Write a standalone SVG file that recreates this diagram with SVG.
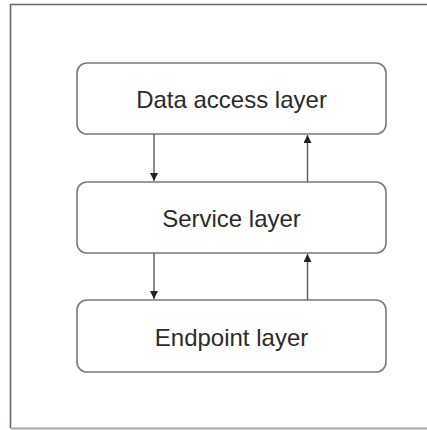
<svg xmlns="http://www.w3.org/2000/svg" width="427" height="430" viewBox="0 0 427 430">
  <style>
    .box { fill: #ffffff; stroke: #7a7a7a; stroke-width: 1.6; }
    .label { font-family: "Liberation Sans", Arial, sans-serif; font-size: 24px; fill: #2b2b2b; text-anchor: middle; }
    .link { stroke: #5a5a5a; stroke-width: 1.4; fill: none; }
  </style>
  <defs>
    <marker id="arrow" viewBox="0 0 10 10" refX="10" refY="5" markerWidth="8" markerHeight="8" markerUnits="userSpaceOnUse" orient="auto">
      <path d="M0,0 L10,5 L0,10 Z" fill="#222222"/>
    </marker>
  </defs>

  <rect x="0" y="0" width="427" height="430" fill="#ffffff"/>
  <!-- outer frame -->
  <path d="M427,4.5 H10.5 V428" fill="none" stroke="#666666" stroke-width="1.6"/>
  <path d="M10.5,428.5 H427" fill="none" stroke="#a3acab" stroke-width="2"/>

  <g id="data-access-layer">
    <rect class="box" x="77" y="63" width="309" height="71" rx="10"/>
    <text class="label" x="231.5" y="108">Data access layer</text>
  </g>
  <g id="service-layer">
    <rect class="box" x="77" y="182" width="309" height="71" rx="10"/>
    <text class="label" x="231.5" y="227">Service layer</text>
  </g>
  <g id="endpoint-layer">
    <rect class="box" x="77" y="300" width="309" height="72" rx="10"/>
    <text class="label" x="231.5" y="346">Endpoint layer</text>
  </g>

  <g id="connectors">
    <line class="link" x1="154" y1="134" x2="154" y2="181" marker-end="url(#arrow)"/>
    <line class="link" x1="307.5" y1="182" x2="307.5" y2="135" marker-end="url(#arrow)"/>
    <line class="link" x1="154" y1="253" x2="154" y2="299" marker-end="url(#arrow)"/>
    <line class="link" x1="307.5" y1="300" x2="307.5" y2="254" marker-end="url(#arrow)"/>
  </g>
</svg>
